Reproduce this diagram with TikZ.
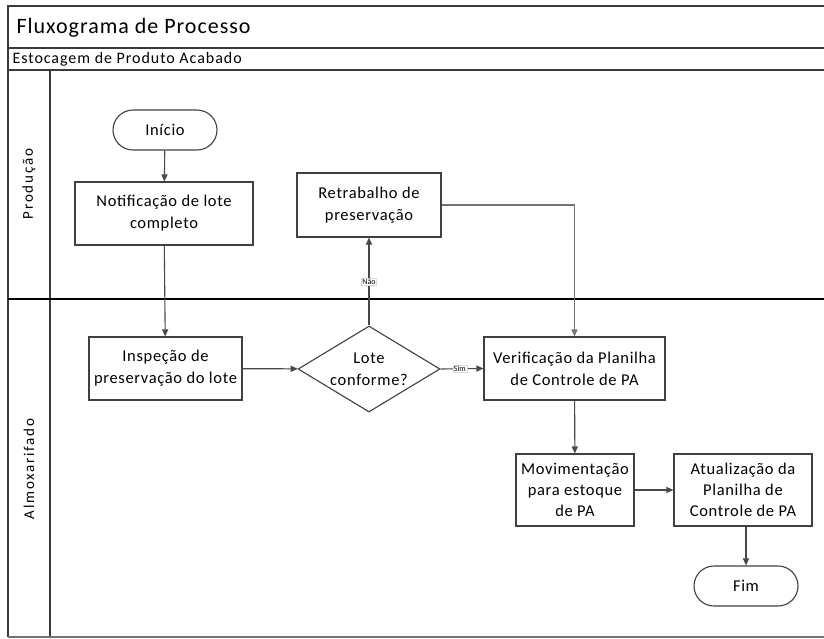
\documentclass[tikz,border=0pt]{standalone}
\usepackage{fontspec}
\setmainfont{Carlito}
\usetikzlibrary{shapes.geometric,arrows.meta}

\definecolor{frameln}{HTML}{3A3A3A}
\definecolor{boxln}{HTML}{404040}
\definecolor{connln}{HTML}{484848}

\newcommand{\boxfont}{\fontsize{16.5}{22}\selectfont\addfontfeature{LetterSpace=4}}

\tikzset{
  procbox/.style={draw=boxln, line width=1.1pt, fill=white, align=center,
    font=\boxfont, inner sep=2pt},
  termbox/.style={draw=boxln, line width=1.1pt, fill=white, rounded corners=20pt,
    minimum width=104pt, minimum height=40pt, font=\boxfont},
  decbox/.style={diamond, draw=boxln, line width=1.1pt, fill=white,
    minimum width=142pt, minimum height=86pt, inner sep=0pt},
  dectext/.style={align=center, font=\boxfont},
  flow/.style={draw=connln, line width=1.1pt, -{Triangle[length=7pt,width=6pt]}},
  flowlabel/.style={fill=white, draw=black!15, line width=0.4pt, inner sep=1pt,
    font=\fontsize{8}{9}\selectfont},
  frame/.style={draw=frameln, line width=1.3pt},
  lanename/.style={rotate=90, font=\fontsize{15}{17}\selectfont\addfontfeature{LetterSpace=12}},
}

\begin{document}
\begin{tikzpicture}[x=1pt,y=-1pt]
\useasboundingbox (0,0) rectangle (824,638);

% pool frame and headers
\draw[frame] (8,637) -- (8,6) -- (824,6);
\draw[frame] (8,48) -- (824,48);
\draw[frame] (8,70) -- (824,70);
\draw[frame] (50,70) -- (50,637);
\draw[frame, draw=black!55] (8,637) -- (824,637);
\draw[draw=black, line width=1.1pt] (8,299) -- (824,299);

\node[anchor=west, font=\fontsize{22}{26}\selectfont\addfontfeature{LetterSpace=4.5}] (title) at (13,27.5) {Fluxograma de Processo};
\node[anchor=west, font=\fontsize{16}{18}\selectfont\addfontfeature{LetterSpace=6}] (sub) at (9,59.5) {Estocagem de Produto Acabado};

% lane names
\node[lanename] (laneA) at (29,184) {Produção};
\node[lanename] (laneB) at (29,469) {Almoxarifado};

% process steps
\node[termbox] (inicio) at (165,130) {Início};
\node[procbox, minimum width=178pt, minimum height=63pt] (notif) at (164,213.5) {Notificação de lote\\completo};
\node[procbox, minimum width=144pt, minimum height=64pt] (retrab) at (369,205) {Retrabalho de\\preservação};
\node[procbox, minimum width=153pt, minimum height=63pt] (insp) at (165.5,368.5) {Inspeção de\\preservação do lote};
\node[decbox] (lote) at (369,369) {};
\node[dectext] (lotetxt) at (lote.center) {Lote\\conforme?};
\node[procbox, minimum width=181pt, minimum height=63pt] (verif) at (574.5,368.5) {Verificação da Planilha\\de Controle de PA};
\node[procbox, minimum width=118pt, minimum height=72pt, font=\fontsize{16.5}{21}\selectfont\addfontfeature{LetterSpace=4}] (movim) at (575,490) {Movimentação\\para estoque\\de PA};
\node[procbox, minimum width=138pt, minimum height=72pt, font=\fontsize{16.5}{21}\selectfont\addfontfeature{LetterSpace=4}] (atual) at (743,490) {Atualização da\\Planilha de\\Controle de PA};
\node[termbox] (fim) at (746,586) {Fim};

% connectors
\draw[flow] (inicio) -- (notif);
\draw[flow] (notif) -- (insp);
\draw[flow] (insp) -- (lote);
\draw[flow] (lote.north) -- node[flowlabel, pos=0.5] {Não} (retrab.south);
\draw[flow] (lote.east) -- node[flowlabel, pos=0.45] {Sim} (verif.west);
\draw[flow, draw=black!55] (retrab.east) -| (verif.north);
\draw[flow] (verif) -- (movim);
\draw[flow] (movim) -- (atual);
\draw[flow] (atual.south -| fim.north) -- (fim.north);
\end{tikzpicture}
\end{document}
